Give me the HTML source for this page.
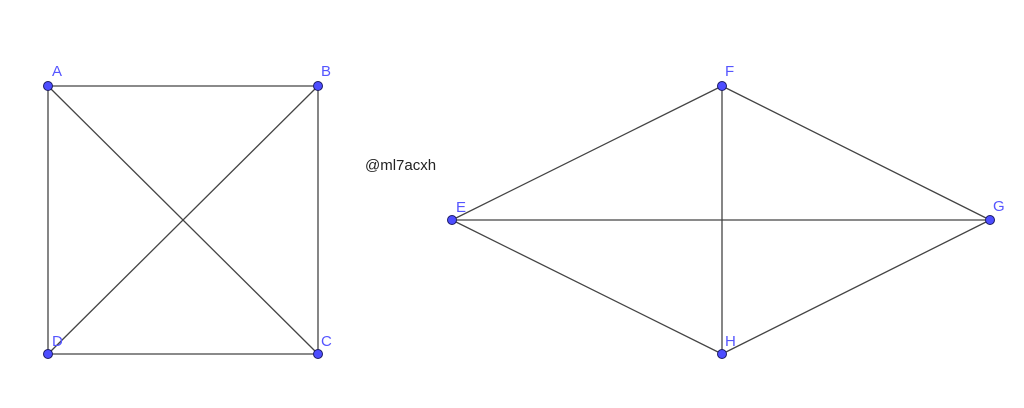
<!DOCTYPE html>
<html><head><meta charset="utf-8"><style>
html,body{margin:0;padding:0;background:#fff;width:1024px;height:408px;overflow:hidden}
</style></head><body>
<svg width="1024" height="408" xmlns="http://www.w3.org/2000/svg" font-family="Liberation Sans, sans-serif">
<g stroke="#444" stroke-width="1.3" fill="none">
<line x1="48" y1="86" x2="318" y2="86"/>
<line x1="318" y1="86" x2="318" y2="354"/>
<line x1="318" y1="354" x2="48" y2="354"/>
<line x1="48" y1="354" x2="48" y2="86"/>
<line x1="48" y1="86" x2="318" y2="354"/>
<line x1="318" y1="86" x2="48" y2="354"/>
<line x1="452" y1="220" x2="722" y2="86"/>
<line x1="722" y1="86" x2="990" y2="220"/>
<line x1="990" y1="220" x2="722" y2="354"/>
<line x1="722" y1="354" x2="452" y2="220"/>
<line x1="452" y1="220" x2="990" y2="220"/>
<line x1="722" y1="86" x2="722" y2="354"/>
</g>
<g fill="#4d4dff" stroke="#1a1a66" stroke-width="1">
<circle cx="48" cy="86" r="4.5"/><circle cx="318" cy="86" r="4.5"/>
<circle cx="318" cy="354" r="4.5"/><circle cx="48" cy="354" r="4.5"/>
<circle cx="452" cy="220" r="4.5"/><circle cx="722" cy="86" r="4.5"/>
<circle cx="990" cy="220" r="4.5"/><circle cx="722" cy="354" r="4.5"/>
</g>
<g fill="#5555ff" font-size="15">
<text x="52" y="76">A</text><text x="321" y="76">B</text>
<text x="321" y="346">C</text><text x="52" y="346">D</text>
<text x="456" y="212">E</text><text x="725" y="76">F</text>
<text x="993" y="211">G</text><text x="725" y="346">H</text>
</g>
<text x="365" y="170" font-size="15" fill="#222">@ml7acxh</text>
</svg>
</body></html>
